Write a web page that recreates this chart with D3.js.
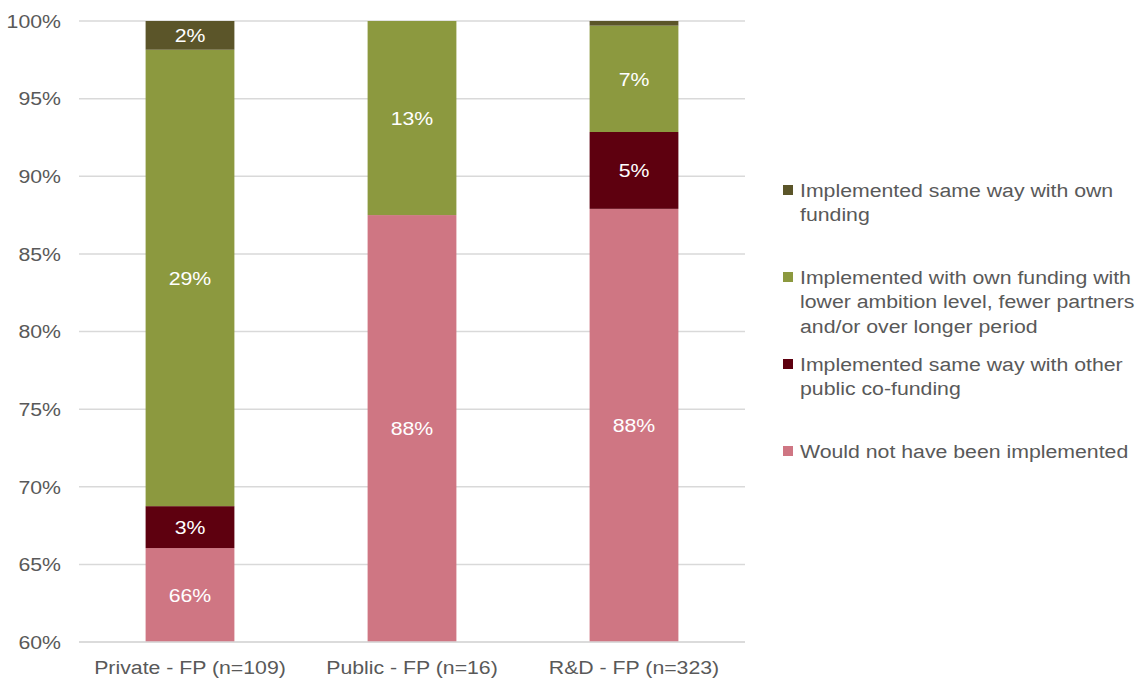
<!DOCTYPE html>
<html><head><meta charset="utf-8">
<script src="https://cdn.jsdelivr.net/npm/d3@7"></script>
<style>body{margin:0;background:#fff}svg{display:block;font-family:"Liberation Sans",Arial,sans-serif}</style>
</head><body><svg id="c" width="1136" height="682"></svg>
<script>
const categories = ["Private - FP (n=109)", "Public - FP (n=16)", "R&D - FP (n=323)"];
const seriesNames = ["Would not have been implemented", "Implemented same way with other public co-funding", "Implemented with own funding with lower ambition level, fewer partners and/or over longer period", "Implemented same way with own funding"];
const notImplemented = [66.05, 87.5, 87.9];
const otherPublic = [2.7, 0, 4.95];
const ownLower = [29.4, 12.5, 6.85];
const ownSame = [1.85, 0, 0.3];
const labels = [["66%","88%","88%"],["3%","","5%"],["29%","13%","7%"],["2%","",""]];
const yTicks = [60,65,70,75,80,85,90,95,100];
const colors = ["#cf7683", "#5e000f", "#8c993f", "#5b5529"];
const legendLines = [["Implemented same way with own","funding"],["Implemented with own funding with","lower ambition level, fewer partners","and/or over longer period"],["Implemented same way with other","public co-funding"],["Would not have been implemented"]];
const legendOrder = [3,2,1,0];
const SX = 1.12;

const svg = d3.select("#c");
const x = d3.scaleBand().domain(categories).range([79,745]).paddingInner(0.6).paddingOuter(0.3);
const y = d3.scaleLinear().domain([60,100]).range([642,21]);

function txt(parent, tx, ty, s, anchor, fill){
  const g = parent.append("g").attr("transform",`translate(${tx},${ty}) scale(${SX},1)`);
  g.append("text").attr("x",0).attr("y",0).attr("dy","0.36em").attr("text-anchor",anchor)
   .attr("font-size",19).attr("fill",fill).text(s);
  return g;
}

svg.append("g").selectAll("line").data(yTicks).join("line")
  .attr("x1",79).attr("x2",745).attr("y1",d=>y(d)).attr("y2",d=>y(d))
  .attr("stroke","#d9d9d9").attr("stroke-width",1.5);

const yl = svg.append("g");
yTicks.forEach(d=>txt(yl, 61, y(d), d+"%", "end", "#595959"));

const data = categories.map((c,i)=>({cat:c, s0:notImplemented[i], s1:otherPublic[i], s2:ownLower[i], s3:ownSame[i]}));
const stack = d3.stack().keys(["s0","s1","s2","s3"])(data);

svg.append("clipPath").attr("id","pc").append("rect").attr("x",0).attr("y",y(100)).attr("width",1136).attr("height",y(60)-y(100));

const g = svg.append("g").attr("clip-path","url(#pc)");
stack.forEach((layer,li)=>{
  g.selectAll(null).data(layer).join("rect")
   .attr("x",d=>x(d.data.cat)).attr("width",x.bandwidth())
   .attr("y",d=>y(d[1])).attr("height",d=>Math.max(0,y(d[0])-y(d[1])))
   .attr("fill",colors[li]);
});
const bl = svg.append("g");
stack.forEach((layer,li)=>{
  layer.forEach((d,i)=>{
    if(labels[li][i]) txt(bl, x(d.data.cat)+x.bandwidth()/2, (y(Math.max(d[0],60))+y(d[1]))/2, labels[li][i], "middle", "#fff");
  });
});

svg.append("line").attr("x1",79).attr("x2",745).attr("y1",y(60)).attr("y2",y(60)).attr("stroke","#d9d9d9").attr("stroke-width",1.5);

const xl = svg.append("g");
categories.forEach(d=>txt(xl, x(d)+x.bandwidth()/2, 667, d, "middle", "#595959"));

const legendY = [190,277,364,451];
const lg = svg.append("g");
legendOrder.forEach((si,k)=>{
  lg.append("rect").attr("x",783).attr("y",legendY[k]-5).attr("width",10).attr("height",10).attr("fill",colors[si]);
  legendLines[k].forEach((ln,j)=> txt(lg, 800, legendY[k]+j*24.5, ln, "start", "#595959"));
});
</script></body></html>
